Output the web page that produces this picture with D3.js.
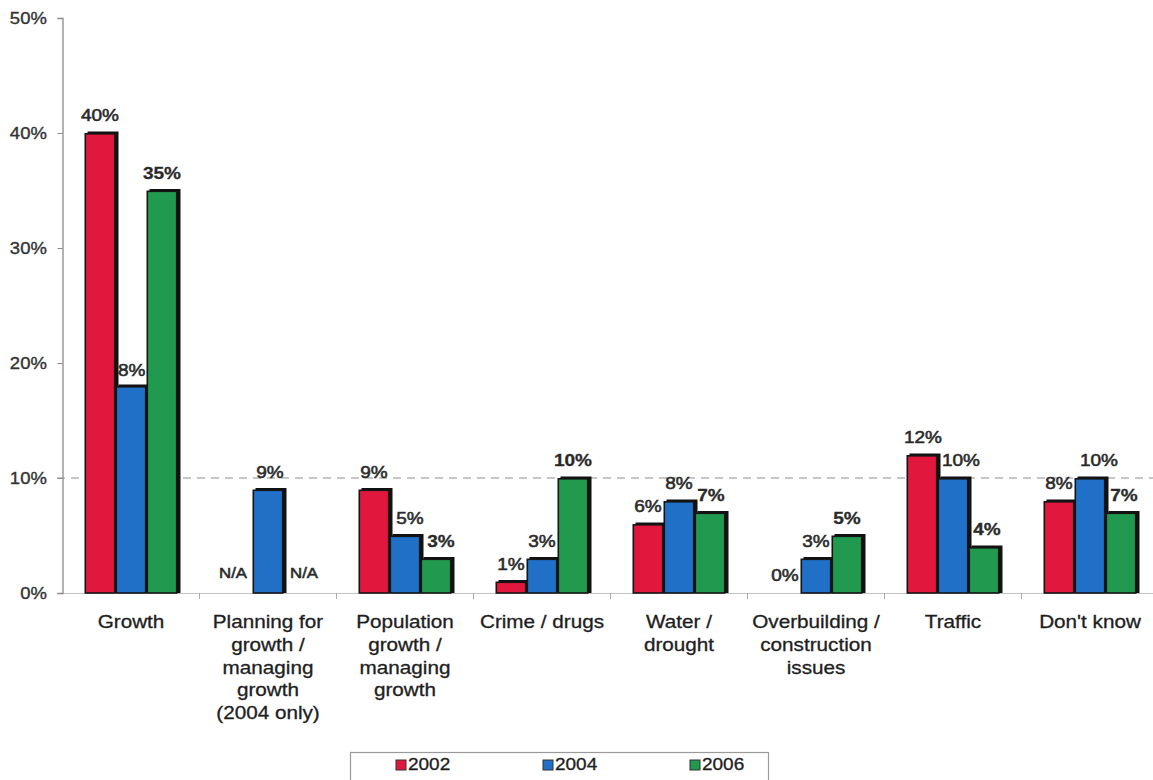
<!DOCTYPE html>
<html>
<head>
<meta charset="utf-8">
<script src="https://cdn.jsdelivr.net/npm/d3@7/dist/d3.min.js"></script>
<style>
  html, body { margin: 0; padding: 0; background: #fff; }
  svg { display: block; font-family: "Liberation Sans", Arial, Helvetica, sans-serif; }
</style>
</head>
<body>
<svg id="chart" width="1153" height="780"></svg>
<script>
// Categories (line-broken as they appear under the axis)
const categories = [
  ["Growth"],
  ["Planning for", "growth /", "managing", "growth", "(2004 only)"],
  ["Population", "growth /", "managing", "growth"],
  ["Crime / drugs"],
  ["Water /", "drought"],
  ["Overbuilding /", "construction", "issues"],
  ["Traffic"],
  ["Don't know"]
];
const seriesNames = ["2002", "2004", "2006"];
// Percent values per survey year; null = question not asked (N/A)
const values2002 = [40, null, 9, 1, 6, 0, 12, 8];
const values2004 = [18, 9, 5, 3, 8, 3, 10, 10];
const values2006 = [35, null, 3, 10, 7, 5, 4, 7];
const yTicks = [0, 10, 20, 30, 40, 50];

const colors = ["#e2173d", "#2070c8", "#21994e"];
// small horizontal label nudges per series, per category
const labelNudge = [
  [0, -4, 0, 0, 0, 0, 1, 0],
  [0, 2, 5, 0, 0, 0, 8, 9],
  [0, 5, 5, 0, 1, 0, 3, 3]
];

const svg = d3.select("#chart");
const catKeys = categories.map(c => c.join(" "));
const seriesValues = [values2002, values2004, values2006];

const y = d3.scaleLinear().domain([0, 50]).range([593, 18]);
const x = d3.scaleBand().domain(catKeys).range([62.5, 1158.5]).padding(0);
const groupW = 93;
const xs = d3.scaleBand().domain(seriesNames).range([0, groupW]).padding(0);
const sx = 1.12;

// dashed reference line at 10%
svg.append("line")
  .attr("x1", 57).attr("x2", 1153)
  .attr("y1", y(10)).attr("y2", y(10))
  .attr("stroke", "#b4b4b4").attr("stroke-width", 1.3)
  .attr("stroke-dasharray", "8,6");

// baseline with category separators
svg.append("line")
  .attr("x1", 62.5).attr("x2", 1153)
  .attr("y1", y(0) + 0.5).attr("y2", y(0) + 0.5)
  .attr("stroke", "#c4c4c4").attr("stroke-width", 1.2);
svg.append("g").selectAll("line")
  .data(catKeys.slice(1))
  .join("line")
  .attr("x1", d => x(d)).attr("x2", d => x(d))
  .attr("y1", y(0)).attr("y2", y(0) + 6)
  .attr("stroke", "#aaa").attr("stroke-width", 1);

// y axis
const yAxis = svg.append("g")
  .attr("transform", "translate(62.5,0)")
  .call(d3.axisLeft(y).tickValues(yTicks).tickFormat(d => d + "%").tickSize(5));
yAxis.select(".domain").attr("stroke", "#8a8a8a").attr("stroke-width", 1.3);
yAxis.selectAll(".tick line").attr("stroke", "#8a8a8a");
yAxis.selectAll(".tick text")
  .attr("x", -14)
  .attr("transform", `scale(${sx},1)`)
  .attr("font-size", 16.5)
  .attr("fill", "#333")
  .attr("stroke", "#333").attr("stroke-width", 0.35)
  .attr("font-family", "'Liberation Sans', Arial, sans-serif");

// flatten bar records
const records = [];
seriesValues.forEach((vals, si) => {
  vals.forEach((v, ci) => {
    const cx = x(catKeys[ci]) + (x.bandwidth() - groupW) / 2 + xs(seriesNames[si]);
    records.push({ si, ci, v, x0: cx, w: xs.bandwidth() });
  });
});

// value labels (drawn under the bars)
const labels = svg.append("g");
records.forEach(r => {
  const isNA = r.v === null;
  const top = y(isNA ? 0 : r.v);
  let lx = r.x0 + r.w / 2 + labelNudge[r.si][r.ci];
  let anchor = "middle";
  let ly = top - (isNA ? 15 : 12);
  // the tall Growth 2004 label sits tight against its neighbour
  if (r.si === 1 && r.ci === 0) { lx = r.x0 + r.w - 1; anchor = "end"; ly = top - 10; }
  const bold = r.si === 2 && !isNA;
  labels.append("g")
    .attr("transform", `translate(${lx},${ly}) scale(${sx},1)`)
    .append("text")
    .attr("text-anchor", anchor)
    .attr("font-size", isNA ? 15 : 17)
    .attr("font-weight", bold ? "bold" : "normal")
    .attr("fill", "#2a2a2a")
    .attr("stroke", "#2a2a2a").attr("stroke-width", bold ? 0.3 : 0.55)
    .text(isNA ? "N/A" : r.v + "%");
});

// bars with a dark drop shadow and outline
const bars = svg.append("g");
records.filter(r => r.v !== null && r.v > 0).forEach(r => {
  const top = y(r.v), h = y(0) - y(r.v);
  bars.append("rect")
    .attr("x", r.x0 + 3).attr("y", top - 1.5)
    .attr("width", r.w).attr("height", h + 1.5)
    .attr("fill", "#111");
  bars.append("rect")
    .attr("x", r.x0 + 0.8).attr("y", top + 0.8)
    .attr("width", r.w - 1.6).attr("height", h - 0.8)
    .attr("fill", colors[r.si])
    .attr("stroke", "#151515").attr("stroke-width", 1.6);
});

// category labels
const catG = svg.append("g");
categories.forEach((lines, i) => {
  const cx = x(catKeys[i]) + x.bandwidth() / 2;
  const t = catG.append("g")
    .attr("transform", `translate(${cx},628) scale(1.15,1)`)
    .append("text")
    .attr("text-anchor", "middle")
    .attr("font-size", 18)
    .attr("fill", "#1e1e1e")
    .attr("stroke", "#1e1e1e").attr("stroke-width", 0.3);
  lines.forEach((ln, k) => {
    t.append("tspan").attr("x", 0).attr("dy", k === 0 ? 0 : 22.8).text(ln);
  });
});

// legend
const legend = svg.append("g");
legend.append("rect")
  .attr("x", 350.5).attr("y", 752.5)
  .attr("width", 418).attr("height", 40)
  .attr("fill", "#fff").attr("stroke", "#9a9a9a").attr("stroke-width", 1.2);
const legendX = [396, 543, 690];
seriesNames.forEach((s, i) => {
  legend.append("rect")
    .attr("x", legendX[i]).attr("y", 760)
    .attr("width", 10).attr("height", 10)
    .attr("fill", colors[i]).attr("stroke", "#333").attr("stroke-width", 1);
  legend.append("g")
    .attr("transform", `translate(${legendX[i] + 12},770) scale(1.15,1)`)
    .append("text")
    .attr("font-size", 16.5)
    .attr("fill", "#1e1e1e")
    .attr("stroke", "#1e1e1e").attr("stroke-width", 0.3)
    .text(s);
});
</script>
</body>
</html>
